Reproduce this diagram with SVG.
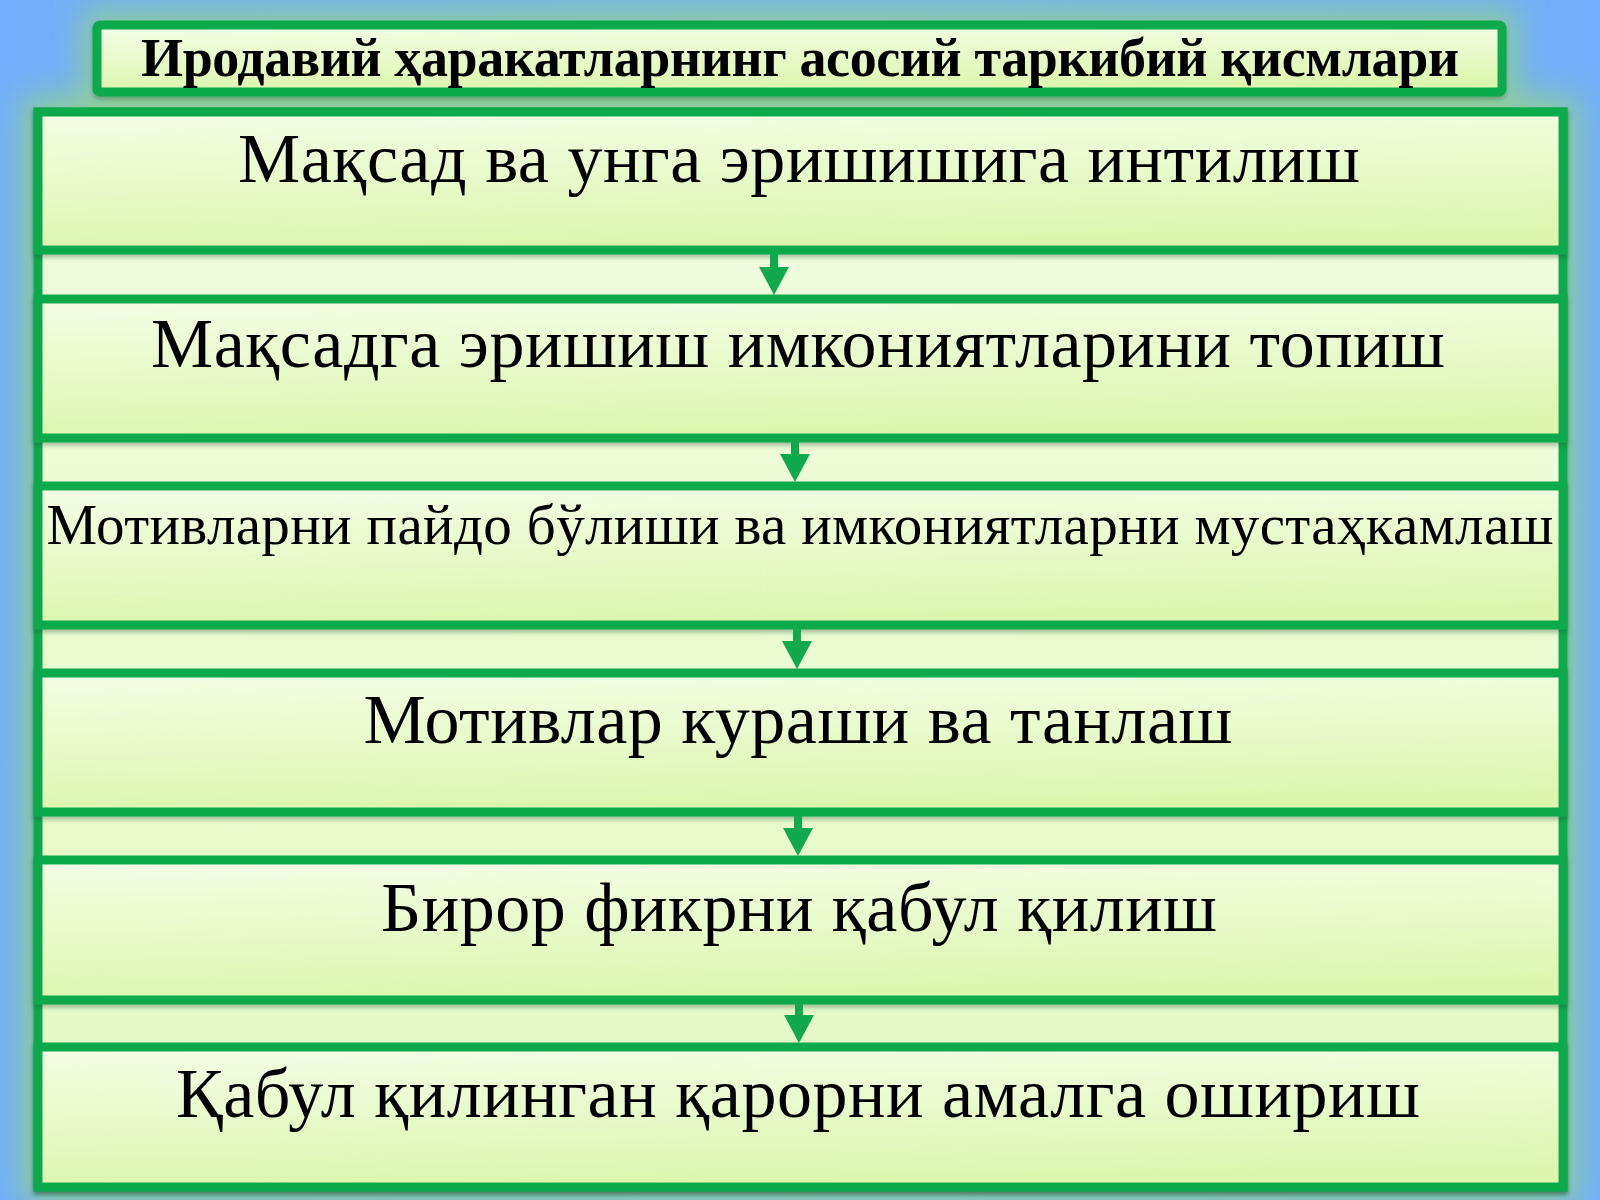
<svg xmlns="http://www.w3.org/2000/svg" width="1600" height="1200" viewBox="0 0 1600 1200">
  <defs>
    <linearGradient id="bg" x1="0" y1="0" x2="1" y2="0">
      <stop offset="0" stop-color="#72adf9"/>
      <stop offset="0.5" stop-color="#79b4ee"/>
      <stop offset="1" stop-color="#72adf9"/>
    </linearGradient>
    <linearGradient id="fill" x1="0" y1="0" x2="0.15" y2="1">
      <stop offset="0" stop-color="#f5fde6"/>
      <stop offset="1" stop-color="#dcf6ae"/>
    </linearGradient>
    <linearGradient id="gapfill" x1="0" y1="0" x2="0" y2="1">
      <stop offset="0" stop-color="#f1fde0"/>
      <stop offset="1" stop-color="#e3f8c2"/>
    </linearGradient>
    <filter id="glow" x="-10%" y="-10%" width="120%" height="120%">
      <feGaussianBlur stdDeviation="16"/>
    </filter>
    <filter id="shadow" x="-5%" y="-10%" width="110%" height="130%">
      <feDropShadow dx="0" dy="3" stdDeviation="2" flood-color="#1b4a2a" flood-opacity="0.35"/>
    </filter>
    <marker id="head" markerUnits="userSpaceOnUse" markerWidth="28" markerHeight="30" viewBox="0 0 28 30" refX="12" refY="15" orient="auto">
      <path d="M0,0 L28,15 L0,30 z" fill="#10aa4c"/>
    </marker>
    <style>
      .box { fill: url(#fill); stroke: #10aa4c; stroke-width: 9; filter: url(#shadow); }
      .frame { fill: url(#gapfill); stroke: #10aa4c; stroke-width: 9; filter: url(#shadow); }
      .title { fill: url(#fill); stroke: #10aa4c; stroke-width: 9; filter: url(#shadow); }
      .t { font-family: "Liberation Serif", "DejaVu Serif", serif; fill: #000; text-anchor: middle; }
      .big { font-size: 70px; }
      .mid { font-size: 57px; }
      .hdr { font-size: 54px; font-weight: bold; }
      .arrow { stroke: #10aa4c; stroke-width: 8; fill: none; marker-end: url(#head); }
    </style>
  </defs>

  <rect x="0" y="0" width="1600" height="1200" fill="url(#bg)"/>
  <!-- soft green glow behind boxes -->
  <g filter="url(#glow)" fill="#8fd09a" opacity="0.95">
    <rect x="82" y="10" width="1435" height="97"/>
    <rect x="22" y="96" width="1557" height="1108"/>
  </g>

  <g id="title">
    <rect class="title" x="97" y="25" width="1405" height="67" rx="3"/>
    <text class="t hdr" x="800" y="76" textLength="1318">Иродавий ҳаракатларнинг асосий таркибий қисмлари</text>
  </g>

  <rect id="frame" class="frame" x="38" y="112" width="1525" height="1075"/>

  <g id="node1">
    <rect class="box" x="38" y="112" width="1525" height="138"/>
    <text class="t big" x="799" y="182" textLength="1122">Мақсад ва унга эришишига интилиш</text>
  </g>
  <g id="node2">
    <rect class="box" x="38" y="299" width="1525" height="139"/>
    <text class="t big" x="798" y="367" textLength="1294">Мақсадга эришиш имкониятларини топиш</text>
  </g>
  <g id="node3">
    <rect class="box" x="38" y="486" width="1525" height="139"/>
    <text class="t mid" x="800" y="544" textLength="1507">Мотивларни пайдо бўлиши ва имкониятларни мустаҳкамлаш</text>
  </g>
  <g id="node4">
    <rect class="box" x="38" y="673" width="1525" height="139"/>
    <text class="t big" x="798" y="743" textLength="869">Мотивлар кураши ва танлаш</text>
  </g>
  <g id="node5">
    <rect class="box" x="38" y="860" width="1525" height="140"/>
    <text class="t big" x="799" y="931" textLength="836">Бирор фикрни қабул қилиш</text>
  </g>
  <g id="node6">
    <rect class="box" x="38" y="1047" width="1525" height="140"/>
    <text class="t big" x="798" y="1117" textLength="1244">Қабул қилинган қарорни амалга ошириш</text>
  </g>

  <g id="connectors">
    <line class="arrow" x1="774" y1="254" x2="774" y2="279"/>
    <line class="arrow" x1="795" y1="442" x2="795" y2="466"/>
    <line class="arrow" x1="797" y1="629" x2="797" y2="653"/>
    <line class="arrow" x1="798" y1="816" x2="798" y2="840"/>
    <line class="arrow" x1="799" y1="1004" x2="799" y2="1027"/>
  </g>
</svg>
